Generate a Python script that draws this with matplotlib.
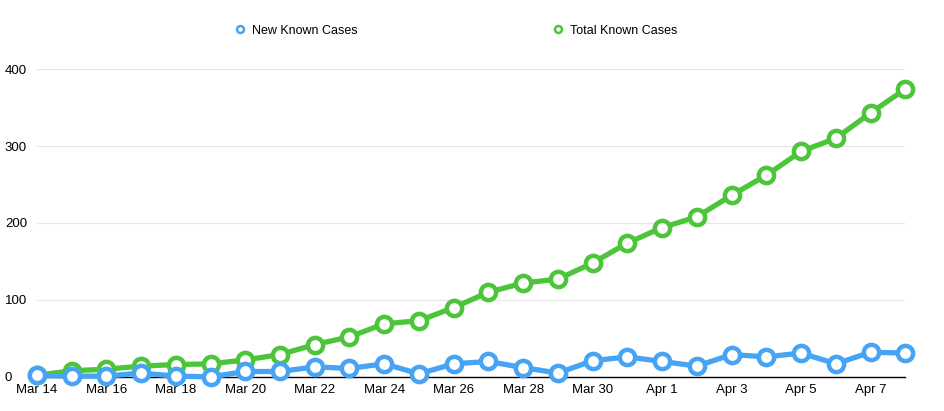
import numpy as np
import pandas as pd
import matplotlib
matplotlib.use('Agg')
import matplotlib.pyplot as plt
import matplotlib.dates as mdates
from matplotlib.lines import Line2D

plt.rcParams['font.family'] = ['Liberation Sans', 'DejaVu Sans']

dates = pd.date_range('2020-03-14', '2020-04-08', freq='D')
new_cases = [2, 1, 1, 5, 1, 0, 7, 7, 13, 11, 17, 4, 17, 20, 12, 5, 21,
             26, 20, 14, 29, 26, 31, 17, 32, 31]
total_cases = [2, 8, 10, 14, 16, 17, 22, 29, 42, 52, 69, 73, 90, 110, 122, 127, 148,
               174, 194, 208, 236, 262, 293, 310, 343, 374]
yticks = [0, 100, 200, 300, 400]

blue = '#47a3f3'
green = '#4cc53b'

fig = plt.figure(figsize=(9.45, 4.11), dpi=100)
ax = fig.add_axes([0.039, 0.083, 0.919, 0.749])

for vals, col in [(total_cases, green), (new_cases, blue)]:
    ax.plot(dates, vals, color=col, lw=3.8, marker='o', ms=11,
            mfc='white', mec=col, mew=3.2, clip_on=False, zorder=3)

ax.set_xlim(dates[0], dates[-1])
ax.set_ylim(0, 400)
ax.set_yticks(yticks)
ax.xaxis.set_major_locator(mdates.DayLocator(bymonthday=[14, 16, 18, 20, 22, 24, 26, 28, 30, 1, 3, 5, 7]))
ax.xaxis.set_major_formatter(mdates.DateFormatter('%b %-d'))
ax.grid(axis='y', color='#e6e6e6', lw=0.8)
ax.set_axisbelow(True)
for s in ['top', 'right', 'left']:
    ax.spines[s].set_visible(False)
ax.spines['bottom'].set_color('black')
ax.spines['bottom'].set_linewidth(1.0)
ax.spines['bottom'].set_zorder(2)
ax.tick_params(length=0, labelsize=9.5, colors='black')
ax.tick_params(axis='y', pad=23)
ax.tick_params(axis='x', pad=5)
for lab in ax.get_yticklabels():
    lab.set_horizontalalignment('left')

handles = [Line2D([], [], ls='none', marker='o', ms=5, mfc='white', mec=blue, mew=1.8),
           Line2D([], [], ls='none', marker='o', ms=5, mfc='white', mec=green, mew=1.8)]
fig.legend(handles, ['New Known Cases', 'Total Known Cases'], loc='center',
           bbox_to_anchor=(0.482, 0.925), ncol=2, frameon=False, fontsize=9,
           handletextpad=0.5, columnspacing=15.5, handlelength=1.0)

fig.savefig('out.png', dpi=100)
